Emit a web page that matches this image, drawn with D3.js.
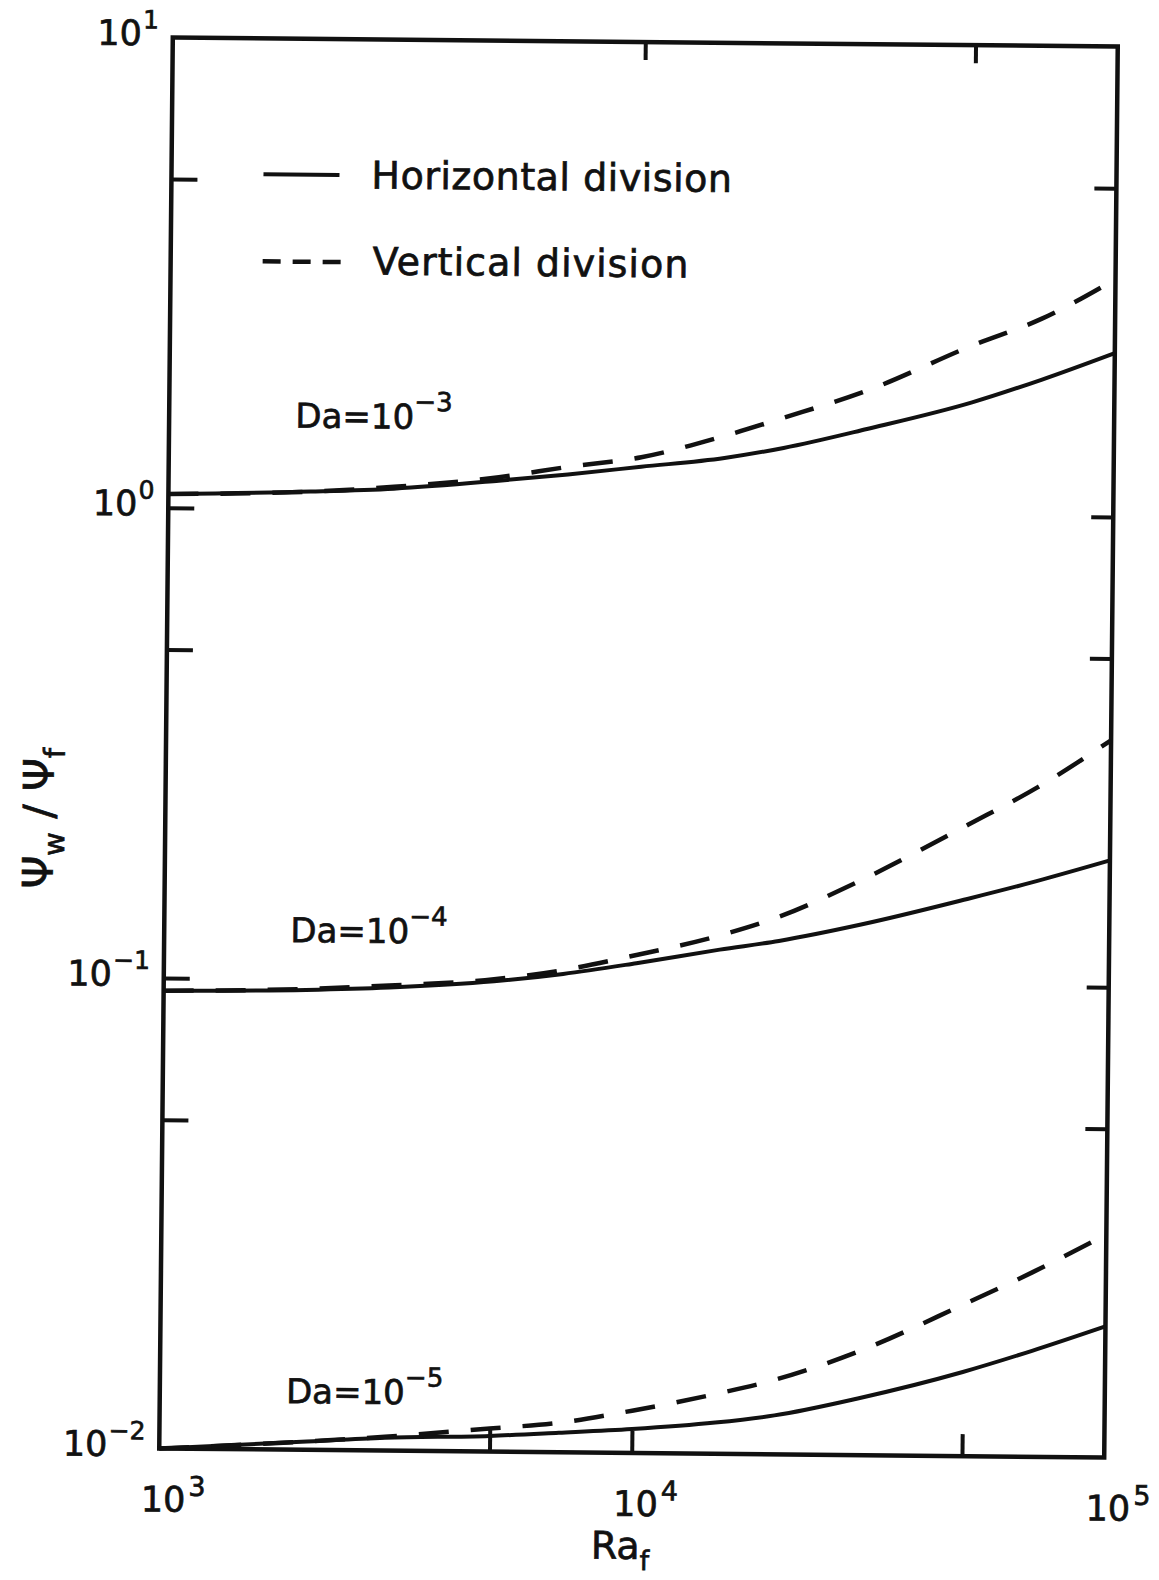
<!DOCTYPE html>
<html>
<head>
<meta charset="utf-8">
<script src="https://cdnjs.cloudflare.com/ajax/libs/d3/7.8.5/d3.min.js"></script>
<style>
	body { margin: 0; background: #fff; }
	text { font-family: "DejaVu Sans", sans-serif; fill: #111; stroke: #111; stroke-width: 0.7px; }
</style>
</head>
<body>
<div id="chart"></div>
<script>

var raValues = [1000, 2000, 3000, 5000, 7000, 10000, 15000, 20000, 30000, 50000, 70000, 100000];

// Psi_w / Psi_f, horizontal division (solid) and vertical division (dashed)
var horizDa3 = [1.07, 1.09, 1.11, 1.16, 1.20, 1.25, 1.31, 1.38, 1.52, 1.74, 1.95, 2.23];
var vertDa3  = [1.07, 1.09, 1.12, 1.18, 1.245, 1.31, 1.46, 1.60, 1.835, 2.30, 2.63, 3.20];
var horizDa4 = [0.094, 0.095, 0.0965, 0.100, 0.104, 0.110, 0.118, 0.1235, 0.1345, 0.153, 0.1675, 0.186];
var vertDa4  = [0.094, 0.0955, 0.0975, 0.101, 0.106, 0.1145, 0.1265, 0.139, 0.1675, 0.220, 0.265, 0.335];
var horizDa5 = [0.0100, 0.0104, 0.01065, 0.0108, 0.0110, 0.01124, 0.01165, 0.0121, 0.0132, 0.0151, 0.0168, 0.0190];
var vertDa5  = [0.0100, 0.0104, 0.0107, 0.0112, 0.01155, 0.0123, 0.0134, 0.0144, 0.0166, 0.0210, 0.0247, 0.0298];

// Darcy number labels and where they sit (data coordinates)
var darcyExp = ["\u22123", "\u22124", "\u22125"];
var darcyLabelRa = 1850;
var darcyLabelPsi = [1.49, 0.12, 0.01256];

// Axes
var xTickValues = [1e3, 1e4, 1e5];
var xTickExp = ["3", "4", "5"];
var yTickValues = [1e-2, 1e-1, 1e0, 1e1];
var yTickExp = ["\u22122", "\u22121", "0", "1"];
var xTicksBottom = [5e3, 1e4, 5e4];
var xTicksTop = [1e4, 5e4];
var yTicksSide = [5e-2, 1e-1, 5e-1, 1, 5];

var legendNames = ["Horizontal division", "Vertical division"];

var W = 1159, H = 1580;
var margin = {left: 166, top: 42};
var width = 945, height = 1411;

var svg = d3.select("#chart").append("svg")
	.attr("width", W)
	.attr("height", H);

// the scanned figure is tilted a little
var page = svg.append("g")
	.attr("transform", "rotate(0.55," + (margin.left + width/2) + "," + (margin.top + height/2) + ")");

var plot = page.append("g")
	.attr("transform", "translate(" + margin.left + "," + margin.top + ")");

var x = d3.scaleLog().domain([1e3, 1e5]).range([0, width]);
var y = d3.scaleLog().domain([1e-2, 1e1]).range([height, 0]);

// inward ticks on all four sides
function tickAxis(gen, vals, len, tx, ty) {
	var g = plot.append("g")
		.attr("transform", "translate(" + tx + "," + ty + ")")
		.call(gen.tickValues(vals).tickSizeInner(-len).tickSizeOuter(0).tickFormat(""));
	g.select(".domain").remove();
	g.selectAll(".tick line").attr("stroke", "#111").attr("stroke-width", 4);
	return g;
}
tickAxis(d3.axisBottom(x), xTicksBottom, 22, 0, height);
tickAxis(d3.axisTop(x), xTicksTop, 18, 0, 0);
tickAxis(d3.axisLeft(y), yTicksSide, 26, 0, 0);
tickAxis(d3.axisRight(y), yTicksSide, 22, width, 0);

// frame
plot.append("rect")
	.attr("width", width)
	.attr("height", height)
	.attr("fill", "none")
	.attr("stroke", "#111")
	.attr("stroke-width", 4.5);

// tick labels, 10 with a superscript
xTickValues.forEach(function(v, i) {
	var t = plot.append("text")
		.attr("x", x(v) - 18)
		.attr("y", height + 63)
		.attr("font-size", 35)
		.text("10");
	t.append("tspan").attr("dx", 3).attr("dy", -16).attr("font-size", 27).text(xTickExp[i]);
});
yTickValues.forEach(function(v, i) {
	var t = plot.append("text")
		.attr("x", -14)
		.attr("y", y(v) + 8)
		.attr("text-anchor", "end")
		.attr("font-size", 35)
		.text("10");
	t.append("tspan").attr("dx", 1).attr("dy", -17).attr("font-size", 25).text(yTickExp[i]);
});

// axis titles
var xt = plot.append("text")
	.attr("x", width/2 - 40)
	.attr("y", height + 106)
	.attr("font-size", 38)
	.text("Ra");
xt.append("tspan").attr("dy", 11).attr("font-size", 27).text("f");

var yt = page.append("text")
	.attr("transform", "translate(54,824) rotate(-90)")
	.attr("text-anchor", "middle")
	.attr("font-size", 42)
	.text("\u03A8");
yt.append("tspan").attr("dy", 11).attr("font-size", 29).text("w");
yt.append("tspan").attr("dy", -11).text(" / \u03A8");
yt.append("tspan").attr("dy", 11).attr("font-size", 29).text("f");

// curves
var line = d3.line()
	.x(function(d) { return x(d[0]); })
	.y(function(d) { return y(d[1]); })
	.curve(d3.curveMonotoneX);

var curves = [
	{vals: horizDa3, dashed: false},
	{vals: vertDa3, dashed: true},
	{vals: horizDa4, dashed: false},
	{vals: vertDa4, dashed: true},
	{vals: horizDa5, dashed: false},
	{vals: vertDa5, dashed: true}
];

plot.selectAll("path.curve")
	.data(curves)
	.enter().append("path")
	.attr("class", "curve")
	.attr("d", function(c) { return line(raValues.map(function(r, i) { return [r, c.vals[i]]; })); })
	.attr("fill", "none")
	.attr("stroke", "#111")
	.attr("stroke-width", function(c) { return c.dashed ? 4.5 : 4; })
	.attr("stroke-dasharray", function(c) { return c.dashed ? "30,22" : null; });

// Da labels
darcyLabelPsi.forEach(function(p, i) {
	var t = plot.append("text")
		.attr("x", x(darcyLabelRa))
		.attr("y", y(p))
		.attr("font-size", 34)
		.text("Da=10");
	t.append("tspan").attr("dx", 0).attr("dy", -18).attr("font-size", 26).text(darcyExp[i]);
});

// legend
var legend = page.append("g");
legend.append("line")
	.attr("x1", 258).attr("x2", 334).attr("y1", 178).attr("y2", 178)
	.attr("stroke", "#111").attr("stroke-width", 4);
legend.append("text")
	.attr("x", 366).attr("y", 191)
	.attr("font-size", 38)
	.attr("letter-spacing", 0.5)
	.text(legendNames[0]);
legend.append("line")
	.attr("x1", 258).attr("x2", 336).attr("y1", 265).attr("y2", 265)
	.attr("stroke", "#111").attr("stroke-width", 4.5)
	.attr("stroke-dasharray", "18,12");
legend.append("text")
	.attr("x", 368).attr("y", 277)
	.attr("font-size", 38)
	.attr("letter-spacing", 1)
	.text(legendNames[1]);

</script>
</body>
</html>
